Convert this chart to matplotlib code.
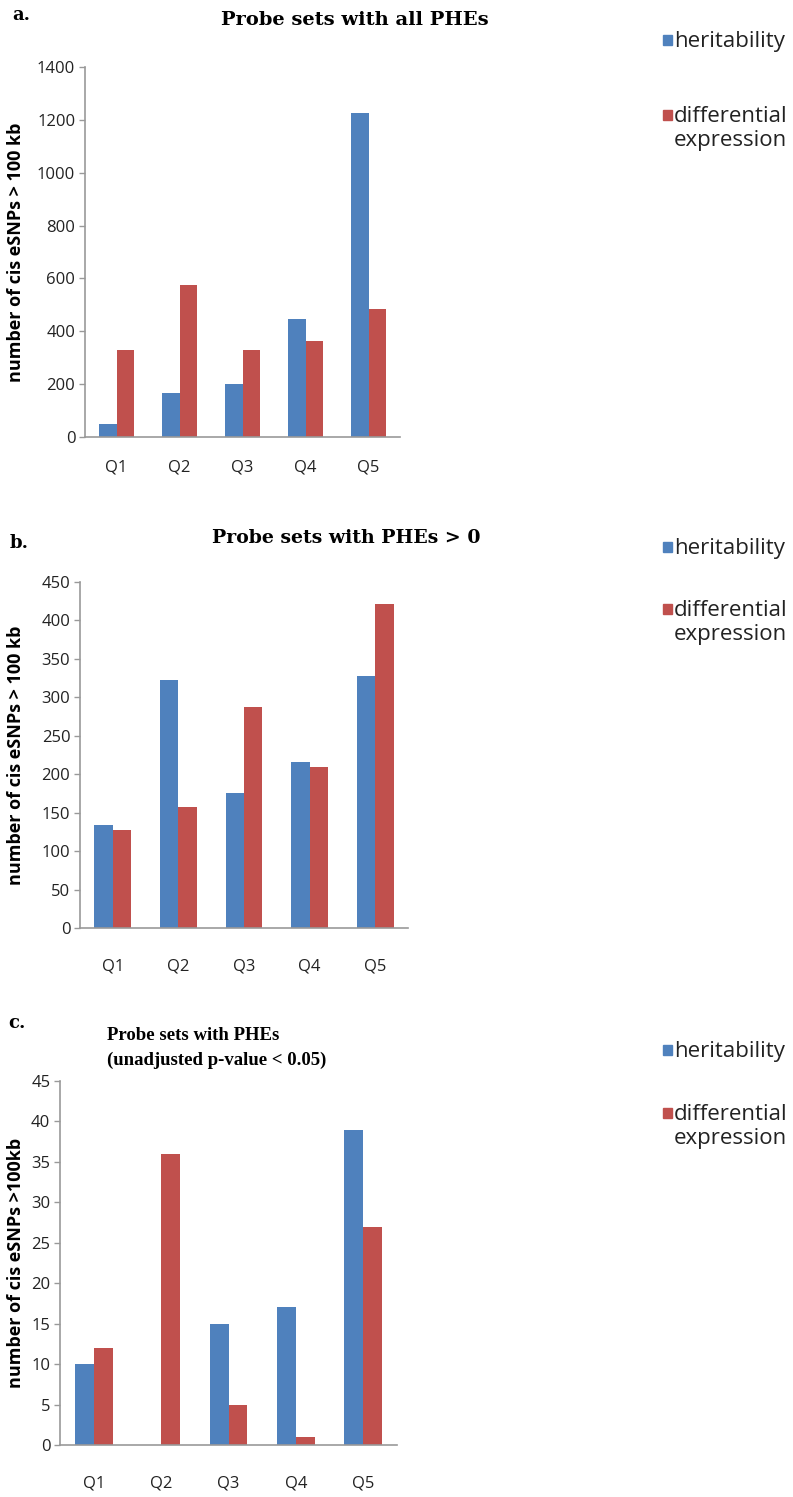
import matplotlib
matplotlib.use("Agg")
import matplotlib.pyplot as plt
import numpy as np

categories = ["Q1", "Q2", "Q3", "Q4", "Q5"]
series_names = ["heritability", "differential\nexpression"]

a_herit = [50, 166, 200, 447, 1225]
a_diff = [329, 574, 329, 363, 486]
b_herit = [134, 323, 175, 216, 328]
b_diff = [128, 158, 287, 210, 421]
c_herit = [10, 0, 15, 17, 39]
c_diff = [12, 36, 5, 1, 27]

titles = ["Probe sets with all PHEs", "Probe sets with PHEs > 0",
          "Probe sets with PHEs\n(unadjusted p-value < 0.05)"]
panel_letters = ["a.", "b.", "c."]
ylabels = ["number of cis eSNPs > 100 kb", "number of cis eSNPs > 100 kb",
           "number of cis eSNPs >100kb"]
yticks_list = [np.arange(0, 1401, 200), np.arange(0, 451, 50), np.arange(0, 46, 5)]

BLUE = "#4F81BD"
RED = "#C0504D"
W, H = 793, 1497
fig = plt.figure(figsize=(W / 100, H / 100), dpi=100)

# axes rectangles in pixels: left, right, top(y of max tick), bottom(y of 0)
rects = [(85, 400, 67, 437), (80, 408, 582, 928), (60, 397, 1081, 1445)]
legend_y = [(40, 115), (547, 609), (1050, 1113)]
title_pos = [(355, 20, "center"), (346, 538, "center"), (107, 1048, "left")]
title_font = [("DejaVu Serif", 14), ("DejaVu Serif", 13.6), ("Liberation Serif", 13.5)]
title_ls = [1.3, 1.3, 1.6]
letter_pos = [(12, 15), (10, 543), (8, 1023)]
xpad = [16, 22, 22]
datasets = [(a_herit, a_diff), (b_herit, b_diff), (c_herit, c_diff)]

sans = ["Open Sans", "DejaVu Sans"]
bw = 0.28
x = np.arange(len(categories))
for i in range(3):
    l, r, t, b = rects[i]
    ax = fig.add_axes([l / W, 1 - b / H, (r - l) / W, (b - t) / H])
    h, d = datasets[i]
    ax.bar(x - bw / 2, h, bw, color=BLUE, label="heritability")
    ax.bar(x + bw / 2, d, bw, color=RED, label="differential expression")
    ax.set_xlim(-0.5, 4.5)
    yt = yticks_list[i]
    ax.set_ylim(0, yt[-1])
    ax.set_yticks(yt)
    ax.set_yticklabels([str(v) for v in yt], fontsize=12, color="#222222", family=sans)
    ax.set_xticks(x)
    ax.set_xticklabels(categories, fontsize=12, color="#222222", family=sans)
    ax.tick_params(axis="x", length=0, pad=xpad[i])
    ax.tick_params(axis="y", length=4, color="#999999", width=1, pad=3)
    for s in ["top", "right"]:
        ax.spines[s].set_visible(False)
    for s in ["left", "bottom"]:
        ax.spines[s].set_color("#999999")
        ax.spines[s].set_linewidth(1.2)
    ax.set_ylabel(ylabels[i], fontsize=13, fontweight="bold", family=sans)
    ax.yaxis.set_label_coords(-(l - 25) / (r - l), 0.5)

    tx, ty, ha = title_pos[i]
    fam, fs = title_font[i]
    fig.text(tx / W, 1 - ty / H, titles[i], ha=ha, va="center", fontsize=fs,
             fontweight="bold", family=fam, linespacing=title_ls[i])
    lx, ly = letter_pos[i]
    fig.text(lx / W, 1 - ly / H, panel_letters[i], ha="left", va="center",
             fontsize=13, fontweight="bold", family="DejaVu Serif")

    y1, y2 = legend_y[i]
    for (yy, col, name) in [(y1, BLUE, series_names[0]), (y2, RED, series_names[1])]:
        fig.patches.append(plt.Rectangle((663 / W, 1 - (yy + 5) / H), 9 / W, 10 / H,
                                         transform=fig.transFigure, color=col))
        fig.text(674 / W, 1 - (yy - 9) / H, name, ha="left", va="top", fontsize=16,
                 color="#222222", linespacing=1.2, family=sans)

fig.savefig("out.png", dpi=100)
